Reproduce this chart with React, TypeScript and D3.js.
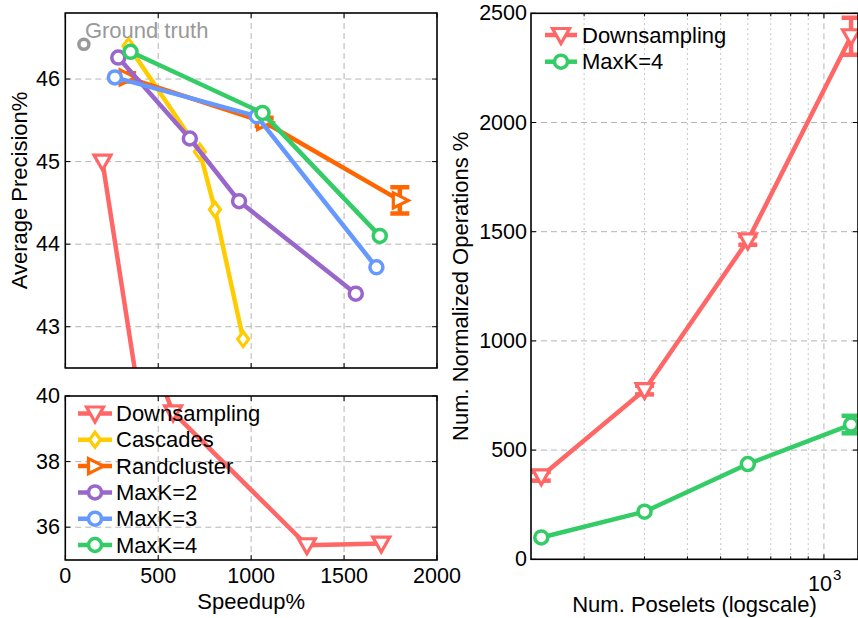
import React, { useEffect, useRef } from "react";
import * as d3 from "d3";

const FONT = "'Liberation Sans', Arial, Helvetica, sans-serif";
const RED = "#ff6666";
const YELLOW = "#ffcc00";
const ORANGE = "#ff6600";
const PURPLE = "#9966cc";
const BLUE = "#6699ff";
const GREEN = "#33cc66";
const GREY = "#999999";
const GRID = "#b4b4b4";

// left plot: speedup % vs average precision %
const gtSpeed = [100];
const gtAP = [46.42];
const downSpeed = [200, 580, 1300, 1700];
const downAP = [45.0, 39.5, 35.45, 35.5];
const cascSpeed = [340, 724, 805, 957];
const cascAP = [46.4, 45.12, 44.42, 42.85];
const randSpeed = [330, 1070, 1800];
const randAP = [46.02, 45.48, 44.53];
const randErr = [0.05, 0.05, 0.16];
const k2Speed = [285, 670, 935, 1563];
const k2AP = [46.26, 45.28, 44.52, 43.4];
const k3Speed = [267, 1030, 1674];
const k3AP = [46.02, 45.55, 43.72];
const k4Speed = [351, 1061, 1692];
const k4AP = [46.33, 45.59, 44.1];

const speedTicks = [0, 500, 1000, 1500, 2000];
const apTopTicks = [43, 44, 45, 46];
const apBotTicks = [36, 38, 40];

// right plot: poselets vs normalized operations
const poselets = [150, 300, 600, 1200];
const downOps = [380, 775, 1460, 2395];
const downOpsErr = [20, 20, 20, 85];
const k4Ops = [100, 218, 436, 617];
const k4OpsErr = [0, 0, 0, 40];
const opsTicks = [0, 500, 1000, 1500, 2000, 2500];
const poseletMinor = [200, 300, 400, 500, 600, 700, 800, 900];

const leftSeries = [
  { name: "Downsampling", color: RED, marker: "down", xs: downSpeed, ys: downAP, err: null },
  { name: "Cascades", color: YELLOW, marker: "diamond", xs: cascSpeed, ys: cascAP, err: null },
  { name: "Randcluster", color: ORANGE, marker: "right", xs: randSpeed, ys: randAP, err: randErr },
  { name: "MaxK=2", color: PURPLE, marker: "circle", xs: k2Speed, ys: k2AP, err: null },
  { name: "MaxK=3", color: BLUE, marker: "circle", xs: k3Speed, ys: k3AP, err: null },
  { name: "MaxK=4", color: GREEN, marker: "circle", xs: k4Speed, ys: k4AP, err: null },
];

const rightSeries = [
  { name: "Downsampling", color: RED, marker: "down", xs: poselets, ys: downOps, err: downOpsErr },
  { name: "MaxK=4", color: GREEN, marker: "circle", xs: poselets, ys: k4Ops, err: k4OpsErr },
];

const SHAPES: Record<string, string> = {
  down: "M-8.5,-6.5L8.5,-6.5L0,8.5Z",
  diamond: "M0,-7.5L5.5,0L0,7.5L-5.5,0Z",
  right: "M-6.5,-7.5L8.5,0L-6.5,7.5Z",
};

const LW = 4.5;

const drawMarker = (g, m, cx, cy, color, r = 6.5, sw = 3.5) => {
  if (m === "circle") {
    g.append("circle")
      .attr("cx", cx)
      .attr("cy", cy)
      .attr("r", r)
      .attr("fill", "#fff")
      .attr("stroke", color)
      .attr("stroke-width", sw);
  } else {
    g.append("path")
      .attr("d", SHAPES[m])
      .attr("transform", `translate(${cx},${cy})`)
      .attr("fill", "#fff")
      .attr("stroke", color)
      .attr("stroke-width", 3.2)
      .attr("stroke-linejoin", "miter");
  }
};

const drawSeries = (g, x, y, s) => {
  const pts = s.xs.map((v, i) => [x(v), y(s.ys[i])]);
  g.append("path")
    .attr("d", d3.line()(pts))
    .attr("fill", "none")
    .attr("stroke", s.color)
    .attr("stroke-width", LW)
    .attr("stroke-linejoin", "round");
  if (s.err) {
    s.err.forEach((e, i) => {
      if (!e) return;
      const cx = x(s.xs[i]);
      const a = y(s.ys[i] + e);
      const b = y(s.ys[i] - e);
      g.append("line").attr("x1", cx).attr("x2", cx).attr("y1", a).attr("y2", b)
        .attr("stroke", s.color).attr("stroke-width", LW);
      [a, b].forEach((yy) => {
        g.append("line").attr("x1", cx - 9.5).attr("x2", cx + 9.5).attr("y1", yy).attr("y2", yy)
          .attr("stroke", s.color).attr("stroke-width", LW);
      });
    });
  }
  pts.forEach((p) => drawMarker(g, s.marker, p[0], p[1], s.color));
};

const frame = (g, x0, x1, y0, y1, xTicks, xs, yTicks, ys) => {
  const tl = 5;
  xTicks.forEach((v) => {
    const px = xs(v);
    g.append("line").attr("x1", px).attr("x2", px).attr("y1", y1).attr("y2", y1 - tl).attr("stroke", "#000");
    g.append("line").attr("x1", px).attr("x2", px).attr("y1", y0).attr("y2", y0 + tl).attr("stroke", "#000");
  });
  yTicks.forEach((v) => {
    const py = ys(v);
    g.append("line").attr("x1", x0).attr("x2", x0 + tl).attr("y1", py).attr("y2", py).attr("stroke", "#000");
    g.append("line").attr("x1", x1).attr("x2", x1 - tl).attr("y1", py).attr("y2", py).attr("stroke", "#000");
  });
  g.append("rect")
    .attr("x", x0).attr("y", y0).attr("width", x1 - x0).attr("height", y1 - y0)
    .attr("fill", "none").attr("stroke", "#000").attr("stroke-width", 1.6);
};

const grid = (g, x0, x1, y0, y1, xv, xs, yv, ys, dash = "6,4") => {
  xv.forEach((v) => {
    g.append("line").attr("x1", xs(v)).attr("x2", xs(v)).attr("y1", y0).attr("y2", y1)
      .attr("stroke", GRID).attr("stroke-width", 1).attr("stroke-dasharray", dash);
  });
  yv.forEach((v) => {
    g.append("line").attr("x1", x0).attr("x2", x1).attr("y1", ys(v)).attr("y2", ys(v))
      .attr("stroke", GRID).attr("stroke-width", 1).attr("stroke-dasharray", dash);
  });
};

const App = () => {
  const ref = useRef(null);
  useEffect(() => {
    const svg = d3.select(ref.current);
    svg.selectAll("*").remove();
    svg.style("font-family", FONT);
    const defs = svg.append("defs");
    const clip = (id, x0, x1, y0, y1) =>
      defs.append("clipPath").attr("id", id).append("rect")
        .attr("x", x0).attr("y", y0).attr("width", x1 - x0).attr("height", y1 - y0);

    // ---- left, top panel
    const L0 = 65.3, L1 = 437;
    const T0 = 13, T1 = 368;
    const B0 = 396, B1 = 560;
    const xS = d3.scaleLinear().domain([0, 2000]).range([L0, L1]);
    const yT = d3.scaleLinear().domain([42.5, 46.8]).range([T1, T0]);
    const yB = d3.scaleLinear().domain([35, 40]).range([B1, B0]);

    clip("clipTop", L0, L1, T0, T1);
    clip("clipBot", L0, L1, B0, B1);

    const top = svg.append("g");
    grid(top, L0, L1, T0, T1, [500, 1000, 1500], xS, apTopTicks, yT);
    const topData = top.append("g").attr("clip-path", "url(#clipTop)");
    leftSeries.forEach((s) => drawSeries(topData, xS, yT, s));
    // ground truth
    drawMarker(top, "circle", xS(gtSpeed[0]), yT(gtAP[0]), GREY, 5, 3.5);
    top.append("text")
      .attr("x", xS(gtSpeed[0]) + 1).attr("y", 38)
      .attr("font-size", 22).attr("fill", GREY).text("Ground truth");
    frame(top, L0, L1, T0, T1, speedTicks, xS, apTopTicks, yT);
    apTopTicks.forEach((v) => {
      top.append("text").attr("x", 60).attr("y", yT(v)).attr("text-anchor", "end")
        .attr("dominant-baseline", "central").attr("font-size", 21.5).text(v);
    });

    // ---- left, bottom panel
    const bot = svg.append("g");
    grid(bot, L0, L1, B0, B1, [500, 1000, 1500], xS, [36, 38], yB);
    const botData = bot.append("g").attr("clip-path", "url(#clipBot)");
    leftSeries.forEach((s) => drawSeries(botData, xS, yB, s));
    frame(bot, L0, L1, B0, B1, speedTicks, xS, apBotTicks, yB);
    apBotTicks.forEach((v) => {
      bot.append("text").attr("x", 60).attr("y", yB(v)).attr("text-anchor", "end")
        .attr("dominant-baseline", "central").attr("font-size", 21.5).text(v);
    });
    speedTicks.forEach((v) => {
      bot.append("text").attr("x", xS(v)).attr("y", 583).attr("text-anchor", "middle")
        .attr("font-size", 21.5).text(v);
    });
    bot.append("text").attr("x", (L0 + L1) / 2).attr("y", 609).attr("text-anchor", "middle")
      .attr("font-size", 22).text("Speedup%");
    svg.append("text").attr("transform", `translate(26.5,${(T0 + T1) / 2}) rotate(-90)`)
      .attr("text-anchor", "middle").attr("font-size", 22).text("Average Precision%");

    // legend left
    leftSeries.forEach((s, i) => {
      const ly = 413.5 + i * 26.3;
      bot.append("line").attr("x1", 78).attr("x2", 112).attr("y1", ly).attr("y2", ly)
        .attr("stroke", s.color).attr("stroke-width", LW);
      drawMarker(bot, s.marker, 95, ly, s.color);
      bot.append("text").attr("x", 116).attr("y", ly).attr("dominant-baseline", "central")
        .attr("font-size", 22).text(s.name);
    });

    // ---- right panel
    const R0 = 531, R1 = 858;
    const RT = 13.3, RB = 559.3;
    const xR = d3.scaleLog().domain([140, 1257]).range([R0, R1]);
    const yR = d3.scaleLinear().domain([0, 2500]).range([RB, RT]);
    clip("clipR", R0, R1, RT - 10, RB);

    const right = svg.append("g");
    grid(right, R0, R1, RT, RB, poseletMinor, xR, [], yR, "1.5,3.5");
    grid(right, R0, R1, RT, RB, [1000], xR, [500, 1000, 1500, 2000], yR);
    const rData = right.append("g").attr("clip-path", "url(#clipR)");
    rightSeries.forEach((s) => drawSeries(rData, xR, yR, s));
    frame(right, R0, R1, RT, RB, [1000], xR, opsTicks, yR);
    poseletMinor.forEach((v) => {
      const px = xR(v);
      right.append("line").attr("x1", px).attr("x2", px).attr("y1", RB).attr("y2", RB - 3).attr("stroke", "#000");
      right.append("line").attr("x1", px).attr("x2", px).attr("y1", RT).attr("y2", RT + 3).attr("stroke", "#000");
    });
    opsTicks.forEach((v) => {
      right.append("text").attr("x", 527).attr("y", yR(v)).attr("text-anchor", "end")
        .attr("dominant-baseline", "central").attr("font-size", 21.5).text(v);
    });
    right.append("text").attr("x", 832).attr("y", 591).attr("text-anchor", "end")
      .attr("font-size", 21.5).text("10");
    right.append("text").attr("x", 833).attr("y", 580).attr("font-size", 15).text("3");
    right.append("text").attr("x", (R0 + R1) / 2).attr("y", 612).attr("text-anchor", "middle")
      .attr("font-size", 22).text("Num. Poselets (logscale)");
    svg.append("text").attr("transform", `translate(468,${(RT + RB) / 2}) rotate(-90)`)
      .attr("text-anchor", "middle").attr("font-size", 22).text("Num. Normalized Operations %");

    rightSeries.forEach((s, i) => {
      const ly = 35 + i * 26.7;
      right.append("line").attr("x1", 545).attr("x2", 577).attr("y1", ly).attr("y2", ly)
        .attr("stroke", s.color).attr("stroke-width", LW);
      drawMarker(right, s.marker, 561, ly, s.color);
      right.append("text").attr("x", 582).attr("y", ly).attr("dominant-baseline", "central")
        .attr("font-size", 22).text(s.name);
    });
  }, []);

  return (
    <svg
      ref={ref}
      width={858}
      height={618}
      style={{ position: "absolute", left: 0, top: 0, background: "#fff" }}
    />
  );
};

export default App;
